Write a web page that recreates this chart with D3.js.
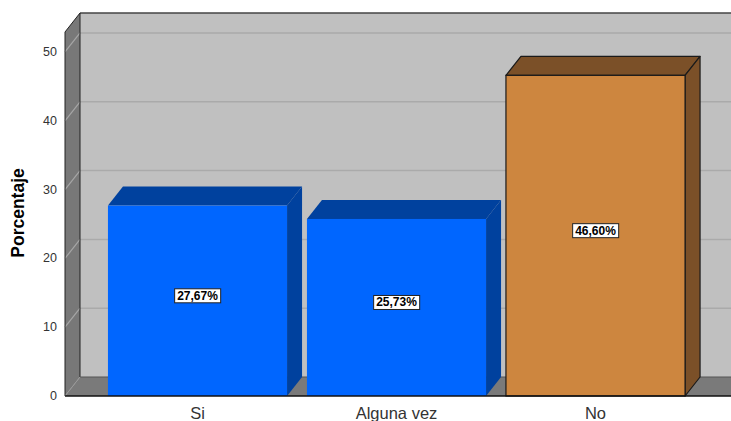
<!DOCTYPE html>
<html>
<head>
<meta charset="utf-8">
<script src="https://cdn.jsdelivr.net/npm/d3@7"></script>
<style>
  html, body { margin: 0; padding: 0; background: #fff; }
  svg { display: block; font-family: Arial, "Liberation Sans", sans-serif; }
</style>
</head>
<body>
<svg id="chart" width="731" height="421"></svg>
<script>
// Response categories and their percentages
const categories = ["Si", "Alguna vez", "No"];
const percentages = [27.67, 25.73, 46.60];
const valueLabels = ["27,67%", "25,73%", "46,60%"];
const yTicks = [0, 10, 20, 30, 40, 50];
const frontColors = ["#0066ff", "#0066ff", "#cd863f"];
const sideColors = ["#00419e", "#00419e", "#7b5028"];
const outlined = [false, false, true];

const W = 731, H = 421;
const svg = d3.select("#chart");

// 3D depth offset of the box
const dx = 15, dy = -19;

const x0 = 65, x1 = 760;
const y = d3.scaleLinear().domain([0, 52.9]).range([396, 32]);
const x = d3.scaleBand().domain(categories).range([98, 695])
  .paddingInner(0.1).paddingOuter(0.05);

const yBottom = y(0), yTop = y(52.9);

// back wall
svg.append("rect")
  .attr("x", x0 + dx).attr("y", yTop + dy)
  .attr("width", x1 - x0).attr("height", yBottom - yTop)
  .attr("fill", "#c0c0c0");

// left side wall
svg.append("polygon")
  .attr("points", [[x0, yTop], [x0 + dx, yTop + dy], [x0 + dx, yBottom + dy], [x0, yBottom]].join(" "))
  .attr("fill", "#787878");

// floor
svg.append("polygon")
  .attr("points", [[x0, yBottom], [x0 + dx, yBottom + dy], [x1, yBottom + dy], [x1, yBottom]].join(" "))
  .attr("fill", "#7a7a7a");

// gridlines on back wall and side wall
yTicks.filter(t => t > 0).forEach(t => {
  svg.append("line")
    .attr("x1", x0 + dx).attr("x2", x1)
    .attr("y1", y(t) + dy).attr("y2", y(t) + dy)
    .attr("stroke", "#aaaaaa").attr("stroke-width", 1.5);
  svg.append("line")
    .attr("x1", x0).attr("x2", x0 + dx)
    .attr("y1", y(t)).attr("y2", y(t) + dy)
    .attr("stroke", "#a6a6a6").attr("stroke-width", 1.2);
});

// wall edges
svg.append("line").attr("x1", x0 + dx).attr("x2", x1)
  .attr("y1", yTop + dy).attr("y2", yTop + dy)
  .attr("stroke", "#444").attr("stroke-width", 1.5);
svg.append("line").attr("x1", x0).attr("x2", x0 + dx)
  .attr("y1", yTop).attr("y2", yTop + dy)
  .attr("stroke", "#222").attr("stroke-width", 1);
svg.append("line").attr("x1", x0 + dx).attr("x2", x0 + dx)
  .attr("y1", yTop + dy).attr("y2", yBottom + dy)
  .attr("stroke", "#222").attr("stroke-width", 1);
svg.append("line").attr("x1", x0).attr("x2", x0)
  .attr("y1", yTop).attr("y2", yBottom)
  .attr("stroke", "#222").attr("stroke-width", 1);
svg.append("line").attr("x1", x0 + dx).attr("x2", x1)
  .attr("y1", yBottom + dy).attr("y2", yBottom + dy)
  .attr("stroke", "#555").attr("stroke-width", 1);
svg.append("line").attr("x1", x0).attr("x2", x0 + dx)
  .attr("y1", yBottom).attr("y2", yBottom + dy)
  .attr("stroke", "#999").attr("stroke-width", 1);

// 3D bars
const bars = svg.append("g");
categories.forEach((c, i) => {
  const v = percentages[i];
  const bx = x(c), bw = x.bandwidth();
  const top = y(v), bot = y(0);
  const stroke = outlined[i] ? "#1a1a1a" : "none";
  const g = bars.append("g");
  // top face
  g.append("polygon")
    .attr("points", [[bx, top], [bx + dx, top + dy], [bx + bw + dx, top + dy], [bx + bw, top]].join(" "))
    .attr("fill", sideColors[i]).attr("stroke", stroke).attr("stroke-width", 1.2)
    .attr("stroke-linejoin", "round");
  // right side face
  g.append("polygon")
    .attr("points", [[bx + bw, top], [bx + bw + dx, top + dy], [bx + bw + dx, bot + dy], [bx + bw, bot]].join(" "))
    .attr("fill", sideColors[i]).attr("stroke", stroke).attr("stroke-width", 1.2)
    .attr("stroke-linejoin", "round");
  // front face
  g.append("rect")
    .attr("x", bx).attr("y", top).attr("width", bw).attr("height", bot - top)
    .attr("fill", frontColors[i]).attr("stroke", stroke).attr("stroke-width", 1.2);
});

// front floor edge
svg.append("line").attr("x1", x0).attr("x2", x1)
  .attr("y1", yBottom).attr("y2", yBottom)
  .attr("stroke", "#111").attr("stroke-width", 1.5);

// value labels
categories.forEach((c, i) => {
  const cx = x(c) + x.bandwidth() / 2;
  const cy = y(percentages[i] / 2) - 5;
  const g = svg.append("g");
  const t = g.append("text")
    .attr("x", cx).attr("y", cy)
    .attr("text-anchor", "middle").attr("dominant-baseline", "central")
    .attr("font-size", 12).attr("font-weight", "bold").attr("fill", "#000")
    .text(valueLabels[i]);
  const bb = t.node().getBBox();
  g.insert("rect", "text")
    .attr("x", bb.x - 2.5).attr("y", cy - 7)
    .attr("width", bb.width + 5).attr("height", 14)
    .attr("fill", "#fff").attr("stroke", "#222").attr("stroke-width", 1);
});

// y tick labels
svg.append("g").selectAll("text").data(yTicks).join("text")
  .attr("x", 57).attr("y", d => y(d))
  .attr("text-anchor", "end").attr("dominant-baseline", "central")
  .attr("font-size", 12.5).attr("fill", "#333")
  .text(d => d);

// category labels
svg.append("g").selectAll("text").data(categories).join("text")
  .attr("x", d => x(d) + x.bandwidth() / 2).attr("y", 419)
  .attr("text-anchor", "middle")
  .attr("font-size", 16.5).attr("fill", "#333")
  .text(d => d);

// y axis title
svg.append("text")
  .attr("transform", "translate(24,213) rotate(-90)")
  .attr("text-anchor", "middle")
  .attr("font-size", 17.5).attr("font-weight", "bold").attr("fill", "#000")
  .text("Porcentaje");
</script>
</body>
</html>
